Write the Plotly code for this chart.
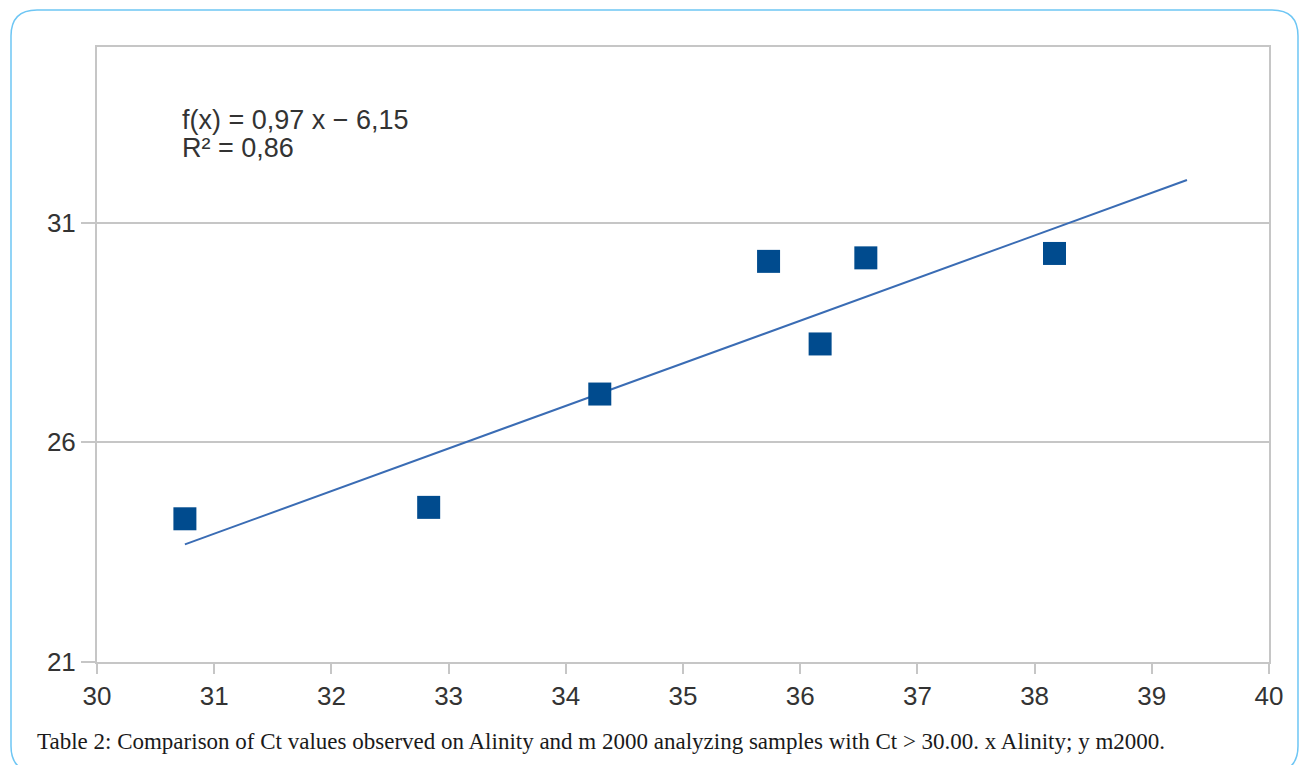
import plotly.graph_objects as go

# Ct values: x = Alinity, y = m2000
alinity = [30.75, 32.83, 34.29, 35.73, 36.17, 36.56, 38.17]
m2000 = [24.26, 24.52, 27.10, 30.12, 28.24, 30.20, 30.30]

# regression shown on the chart
slope = 0.97
intercept = -6.15
fit_x = [30.75, 39.3]
fit_y = [slope * v + intercept for v in fit_x]

x_ticks = list(range(30, 41))
y_ticks = [21, 26, 31]

W, H = 1300, 765
L, R, T, B = 97, 31, 47, 103
pw, ph = W - L - R, H - T - B


def px(xp):
    return (xp - L) / pw


def py(yp):
    return (H - B - yp) / ph


fig = go.Figure()

fig.add_trace(go.Scatter(
    x=fit_x, y=fit_y, mode="lines",
    line=dict(color="#3a6cb4", width=2),
    hoverinfo="skip", showlegend=False,
))
fig.add_trace(go.Scatter(
    x=alinity, y=m2000, mode="markers",
    marker=dict(symbol="square", size=23, color="#004b8e", line=dict(width=0)),
    showlegend=False,
))

axis_font = dict(family="Liberation Sans, Arial, sans-serif", size=26, color="#333333")
eq_font = dict(family="Liberation Sans, Arial, sans-serif", size=27, color="#333333")

fig.update_xaxes(
    range=[30, 40], tickvals=x_ticks, ticktext=[str(v) for v in x_ticks],
    showgrid=False, zeroline=False,
    showline=True, mirror=True, linecolor="#c6c6c6", linewidth=2,
    ticks="outside", ticklen=10, tickcolor="#c6c6c6", tickwidth=2,
    tickfont=axis_font,
)
fig.update_yaxes(
    range=[21, 35], tickvals=y_ticks, ticktext=[str(v) for v in y_ticks],
    showgrid=True, gridcolor="#c6c6c6", gridwidth=2, zeroline=False,
    showline=True, mirror=True, linecolor="#c6c6c6", linewidth=2,
    ticks="outside", ticklen=14, tickcolor="#c6c6c6", tickwidth=2,
    tickfont=axis_font,
)

# regression equation
fig.add_annotation(x=30.71, y=33.33, xref="x", yref="y", xanchor="left", yanchor="middle",
                   text="f(x) = 0,97 x − 6,15", showarrow=False, font=eq_font)
fig.add_annotation(x=30.71, y=32.70, xref="x", yref="y", xanchor="left", yanchor="middle",
                   text="R² = 0,86", showarrow=False, font=eq_font)

# caption
fig.add_annotation(
    x=px(35), y=py(741), xref="paper", yref="paper", xanchor="left", yanchor="middle",
    text="Table 2: Comparison of Ct values observed on Alinity and m 2000 analyzing samples with Ct > 30.00. x Alinity; y m2000.",
    showarrow=False,
    font=dict(family="Liberation Serif, Times New Roman, serif", size=23, color="#1a1a1a"),
)

# rounded outer frame
x0, y0, x1, y1, r = 11, 10, 1298, 772, 26
pts = [
    ("M", (x0 + r, y0)), ("L", (x1 - r, y0)), ("Q", (x1, y0), (x1, y0 + r)),
    ("L", (x1, y1 - r)), ("Q", (x1, y1), (x1 - r, y1)),
    ("L", (x0 + r, y1)), ("Q", (x0, y1), (x0, y1 - r)),
    ("L", (x0, y0 + r)), ("Q", (x0, y0), (x0 + r, y0)),
]
path = ""
for cmd, *coords in pts:
    path += cmd + " " + " ".join(f"{px(a):.5f},{py(b):.5f}" for a, b in coords) + " "
path += "Z"
fig.add_shape(type="path", path=path, xref="paper", yref="paper",
              line=dict(color="#6ec6f4", width=1.5), layer="below")

fig.update_layout(
    width=W, height=H,
    margin=dict(l=L, r=R, t=T, b=B),
    paper_bgcolor="white", plot_bgcolor="white",
    showlegend=False,
)

fig.write_html("out.html")
